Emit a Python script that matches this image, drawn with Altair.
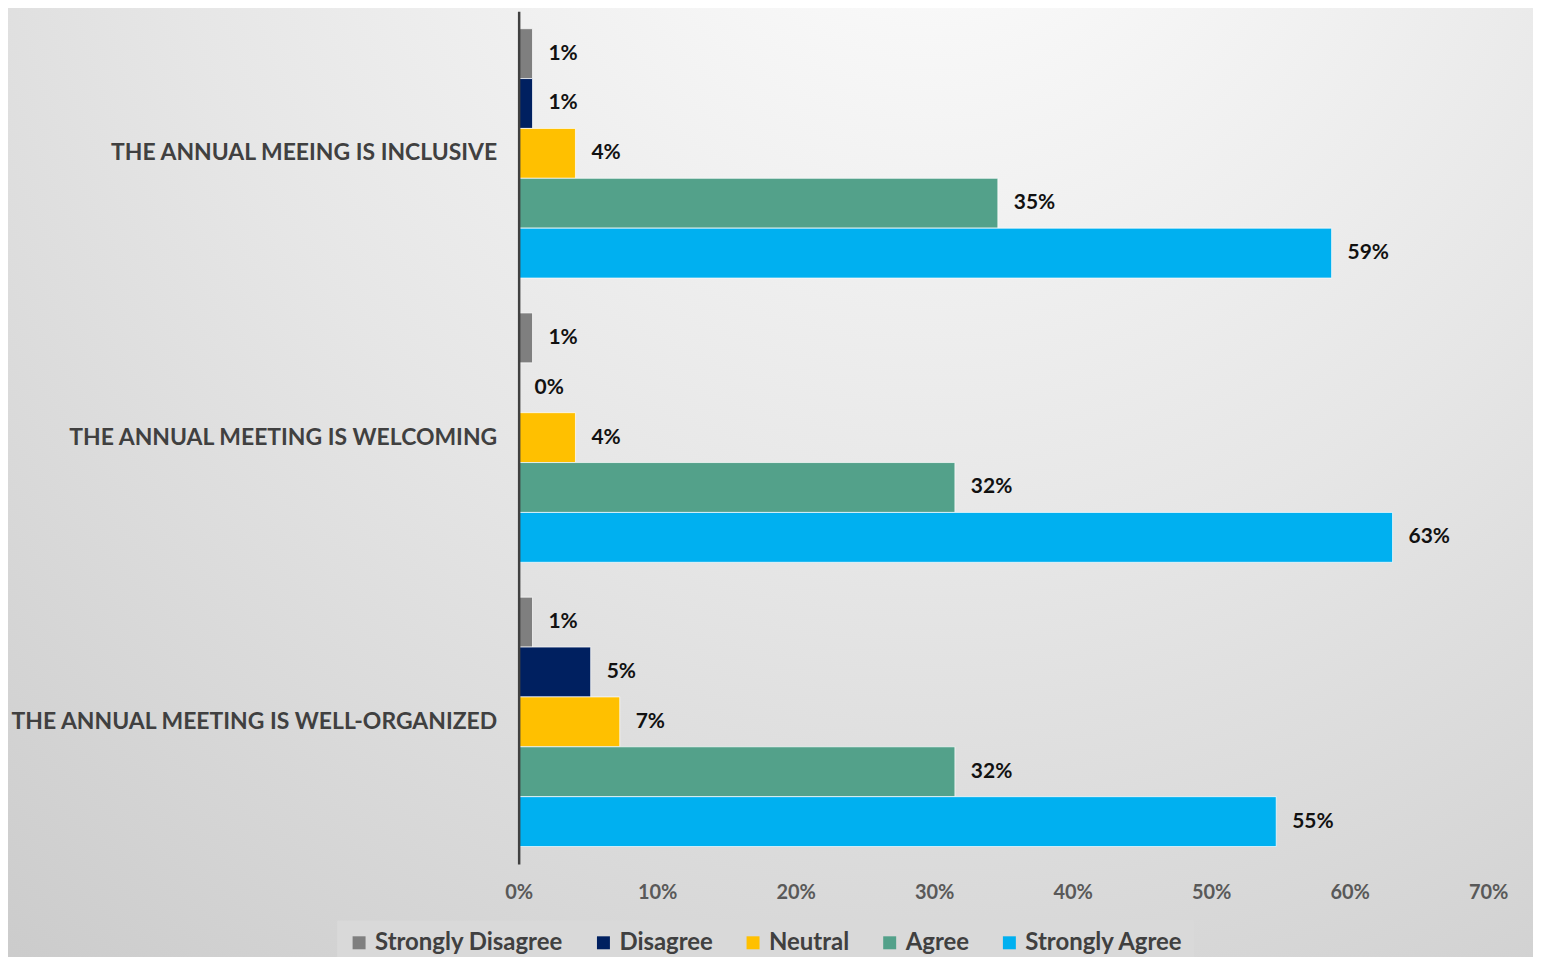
import altair as alt
import pandas as pd

categories = [
    "THE ANNUAL MEEING IS INCLUSIVE",
    "THE ANNUAL MEETING IS WELCOMING",
    "THE ANNUAL MEETING IS WELL-ORGANIZED",
]
series = ["Strongly Disagree", "Disagree", "Neutral", "Agree", "Strongly Agree"]
colors = ["#7F7F7F", "#002060", "#FFC000", "#53A18A", "#00B0F0"]

strongly_disagree = [0.010, 0.010, 0.010]
disagree = [0.010, 0.000, 0.052]
neutral = [0.041, 0.041, 0.073]
agree = [0.346, 0.315, 0.315]
strongly_agree = [0.587, 0.631, 0.547]

values_by_series = [strongly_disagree, disagree, neutral, agree, strongly_agree]
rows = []
for s, vals in zip(series, values_by_series):
    for c, v in zip(categories, vals):
        rows.append({"category": c, "series": s, "value": v})
df = pd.DataFrame(rows)

W, H = 972, 855
FONT = "Lato"

bg = alt.Chart(pd.DataFrame({"a": [0]})).mark_rect(
    fill=alt.RadialGradient(
        gradient="radial",
        x1=0.6, y1=0.05, r1=0.0,
        x2=0.6, y2=0.05, r2=1.0,
        stops=[
            alt.GradientStop(offset=0, color="#ffffff"),
            alt.GradientStop(offset=0.5, color="#e6e6e6"),
            alt.GradientStop(offset=1, color="#c9c9c9"),
        ],
    )
).encode(
    x=alt.value(-530), x2=alt.value(W + 70),
    y=alt.value(-20), y2=alt.value(H + 120)
)

yenc = alt.Y(
    "category:N", sort=categories, title=None,
    scale=alt.Scale(paddingInner=0.1228, paddingOuter=0.0614),
    axis=alt.Axis(
        labelFont=FONT, labelFontSize=23, labelFontWeight="bold",
        labelColor="#404040", labelPadding=22, ticks=False,
        domainColor="#404040", domainWidth=2.5, labelLimit=600, zindex=2,
    ),
)
yoff = alt.YOffset("series:N", sort=series)
xenc = alt.X(
    "value:Q", title=None,
    scale=alt.Scale(domain=[0, 0.7], nice=False),
    axis=alt.Axis(
        format=".0%", values=[0, 0.1, 0.2, 0.3, 0.4, 0.5, 0.6, 0.7],
        labelFont=FONT, labelFontSize=20, labelFontWeight="bold",
        labelColor="#595959", domain=False, ticks=False, grid=False,
        labelPadding=19, labelFlush=False, zindex=2,
    ),
)

bars = alt.Chart(df).mark_bar(stroke="#ffffff", strokeWidth=1, strokeOpacity=0.7).encode(
    y=yenc, yOffset=yoff, x=xenc,
    color=alt.Color(
        "series:N", sort=series,
        scale=alt.Scale(domain=series, range=colors),
        legend=alt.Legend(
            title=None, orient="none", legendX=-182, legendY=912,
            direction="horizontal", columns=5,
            fillColor="#d9d9d9", padding=10,
            symbolType="square", symbolSize=169, symbolStrokeWidth=0,
            labelFont=FONT, labelFontSize=24, labelFontWeight="bold",
            labelColor="#404040", columnPadding=28, labelOffset=4,
            labelLimit=400,
        ),
    ),
)

labels = alt.Chart(df).mark_text(
    align="left", baseline="middle", dx=16,
    font=FONT, fontSize=21, fontWeight="bold", color="#111111",
).encode(
    y=alt.Y("category:N", sort=categories),
    yOffset=alt.YOffset("series:N", sort=series),
    x=alt.X("value:Q"),
    text=alt.Text("value:Q", format=".0%"),
)

chart = alt.layer(bg, bars, labels).properties(
    width=W, height=H,
    autosize=alt.AutoSizeParams(type="none"),
    padding={"left": 512, "top": 2, "right": 45, "bottom": 92},
    background="#d6d6d6",
).configure_view(stroke=None)

chart.save("out.html", embed_options={"renderer": "svg", "actions": False})
